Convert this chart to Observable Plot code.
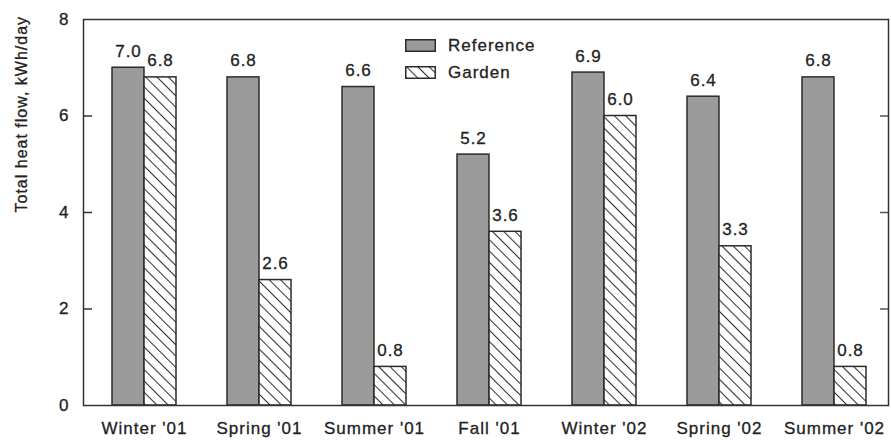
<!DOCTYPE html>
<html><head><meta charset="utf-8">
<script src="https://cdn.jsdelivr.net/npm/d3@7"></script>
<script src="https://cdn.jsdelivr.net/npm/@observablehq/plot@0.6"></script>
<style>
body{margin:0;background:#fff;font-family:"Liberation Sans",Arial,sans-serif;}
#wrap{position:relative;width:891px;height:443px;}
#legend{position:absolute;left:405px;top:32px;font-size:17px;letter-spacing:1px;color:#222;-webkit-text-stroke:0.3px #222;}
#legend .row{display:flex;align-items:center;height:27px;}
#legend svg{margin-right:12px;}
svg text{stroke:#222;stroke-width:0.3px;}
</style></head><body>
<div id="wrap"><div id="chart"></div><div id="legend"></div></div>
<script>
const seasons = ["Winter '01", "Spring '01", "Summer '01", "Fall '01", "Winter '02", "Spring '02", "Summer '02"];
const seriesNames = ["Reference", "Garden"];
const referenceValues = [7.0, 6.8, 6.6, 5.2, 6.9, 6.4, 6.8];
const gardenValues = [6.8, 2.6, 0.8, 3.6, 6.0, 3.3, 0.8];
const yTickLabels = [0, 2, 4, 6, 8];
const yTickMarks = [2, 4, 6];
const yTitle = "Total heat flow, kWh/day";

const W = 891, H = 443, ml = 83, mr = 3, mt = 19, mb = 38;
const padInner = 0.444, padOuter = 0.217, align = 0.56;
const step = (W - ml - mr) / (seasons.length - padInner + 2 * padOuter);
const half = step * (1 - padInner) / 2;

const refRows = seasons.map((s, i) => ({season: s, series: seriesNames[0], value: referenceValues[i]}));
const garRows = seasons.map((s, i) => ({season: s, series: seriesNames[1], value: gardenValues[i]}));

const refFill = "#9b9b9b", edge = "#2b2b2b";
const font = '"Liberation Sans", Arial, sans-serif';

const chart = Plot.plot({
  width: W, height: H,
  marginLeft: ml, marginRight: mr, marginTop: mt, marginBottom: mb,
  style: {fontFamily: font, fontSize: "17px", color: "#222", background: "#fff", letterSpacing: "1px"},
  x: {domain: seasons, paddingInner: padInner, paddingOuter: padOuter, align, label: null},
  y: {domain: [0, 8], label: null},
  marks: [
    Plot.barY(refRows, {x: "season", y: "value", insetRight: half, fill: refFill, stroke: edge, strokeWidth: 1.5}),
    Plot.barY(garRows, {x: "season", y: "value", insetLeft: half, fill: "url(#hatch)", stroke: edge, strokeWidth: 1.5}),
    Plot.text(refRows, {x: "season", y: "value", text: d => d.value.toFixed(1), dx: -half / 2, dy: -11, lineAnchor: "bottom", fontSize: 17, fill: "#222"}),
    Plot.text(garRows, {x: "season", y: "value", text: d => d.value.toFixed(1), dx: half / 2, dy: -11, lineAnchor: "bottom", fontSize: 17, fill: "#222"}),
    Plot.axisY({anchor: "left", ticks: yTickLabels, tickSize: 0, tickPadding: 14, fontSize: 17, label: null}),
    Plot.axisY({anchor: "left", ticks: yTickMarks, tickSize: -9, text: null, label: null, stroke: "#333", strokeWidth: 1.5}),
    Plot.axisY({anchor: "right", ticks: yTickMarks, tickSize: -9, text: null, label: null, stroke: "#555", strokeWidth: 1.5}),
    Plot.axisX({tickSize: 0, tickPadding: 16, fontSize: 17, label: null}),
    Plot.frame({stroke: "#333", strokeWidth: 1.5}),
    Plot.text([yTitle], {frameAnchor: "left", rotate: -90, dx: -62, fontSize: 16, fill: "#222"})
  ]
});

// hatch pattern definition
const ns = "http://www.w3.org/2000/svg";
function addHatch(svg, id) {
  const defs = document.createElementNS(ns, "defs");
  const pat = document.createElementNS(ns, "pattern");
  pat.setAttribute("id", id);
  pat.setAttribute("patternUnits", "userSpaceOnUse");
  pat.setAttribute("width", "8");
  pat.setAttribute("height", "8");
  pat.setAttribute("patternTransform", "rotate(-45)");
  const bg = document.createElementNS(ns, "rect");
  bg.setAttribute("width", "8"); bg.setAttribute("height", "8"); bg.setAttribute("fill", "#fff");
  const ln = document.createElementNS(ns, "line");
  ln.setAttribute("x1", "0.5"); ln.setAttribute("y1", "0");
  ln.setAttribute("x2", "0.5"); ln.setAttribute("y2", "8");
  ln.setAttribute("stroke", "#333"); ln.setAttribute("stroke-width", "1.1");
  pat.appendChild(bg); pat.appendChild(ln);
  defs.appendChild(pat);
  svg.insertBefore(defs, svg.firstChild);
}
addHatch(chart, "hatch");
document.getElementById("chart").appendChild(chart);

// legend
const legend = document.getElementById("legend");
seriesNames.forEach((name, i) => {
  const row = document.createElement("div");
  row.className = "row";
  const sw = document.createElementNS(ns, "svg");
  sw.setAttribute("width", "31"); sw.setAttribute("height", "13");
  if (i === 1) addHatch(sw, "hatchL");
  const r = document.createElementNS(ns, "rect");
  r.setAttribute("x", "0.75"); r.setAttribute("y", "0.75");
  r.setAttribute("width", "29.5"); r.setAttribute("height", "11.5");
  r.setAttribute("fill", i === 0 ? refFill : "url(#hatchL)");
  r.setAttribute("stroke", edge); r.setAttribute("stroke-width", "1.5");
  sw.appendChild(r);
  row.appendChild(sw);
  const t = document.createElement("span");
  t.textContent = name;
  row.appendChild(t);
  legend.appendChild(row);
});
</script>
</body></html>
